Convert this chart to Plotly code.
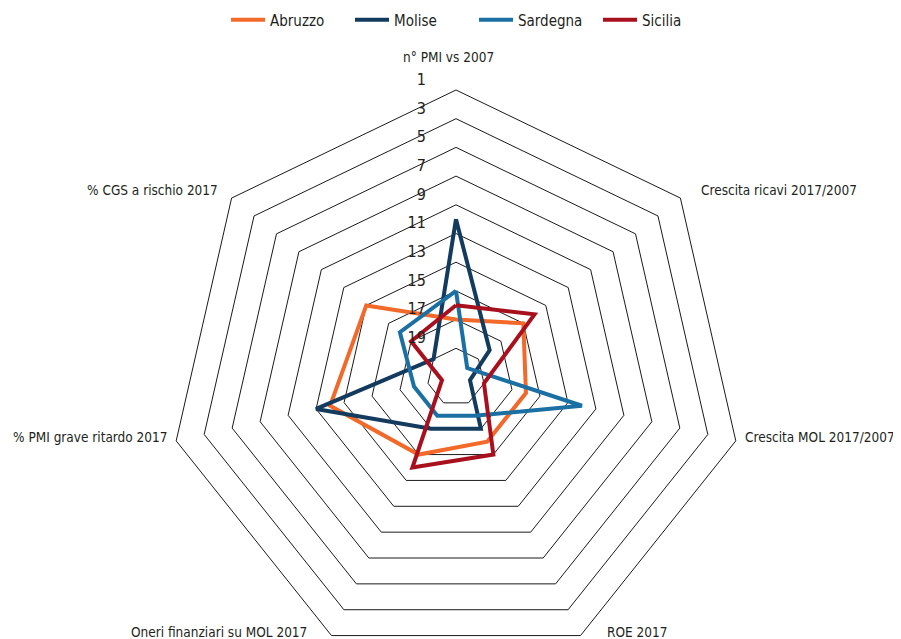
import plotly.graph_objects as go

categories = [
    "n° PMI vs 2007",
    "Crescita ricavi 2017/2007",
    "Crescita MOL 2017/2007",
    "ROE 2017",
    "Oneri finanziari su MOL 2017",
    "% PMI grave ritardo 2017",
    "% CGS a rischio 2017",
]
abruzzo = [17, 15, 16, 16, 15, 12, 13]
molise = [10, 18, 20, 17, 17, 11, 19]
sardegna = [15, 20, 12, 18, 18, 18, 16]
sicilia = [16, 14, 19, 15, 14, 20, 17]
radial_ticks = [1, 3, 5, 7, 9, 11, 13, 15, 17, 19]

series = [
    ("Abruzzo", abruzzo, "#F2692A"),
    ("Molise", molise, "#123B5E"),
    ("Sardegna", sardegna, "#1A70A3"),
    ("Sicilia", sicilia, "#A8101E"),
]

FONT = "DejaVu Sans Condensed, sans-serif"
TXT = "#231F20"

# figure geometry (the page adds an 8px body margin)
W, H = 893, 665
ML = 3
PW = W - ML
OFF = 8
POLAR_TOP, POLAR_H = 90, 574   # window pixels


def px(xw):
    return (xw - OFF - ML) / PW


def py(yw):
    return 1 - (yw - OFF) / H


fig = go.Figure()
for name, vals, color in series:
    fig.add_trace(go.Scatterpolar(
        r=vals + vals[:1],
        theta=categories + categories[:1],
        mode="lines",
        name=name,
        line=dict(color=color, width=4),
    ))

# category labels placed like the original (outside the heptagon)
label_pos = [
    (448, 57, "center"),
    (699, 190, "left"),
    (897, 437, "right"),
    (605, 632, "left"),
    (309, 632, "right"),
    (170, 437, "right"),
    (220, 190, "right"),
]
for cat, (xw, yw, anchor) in zip(categories, label_pos):
    fig.add_annotation(
        text=cat, xref="paper", yref="paper",
        x=px(xw), y=py(yw), xanchor=anchor, yanchor="middle",
        showarrow=False,
        font=dict(family=FONT, size=13.5, color=TXT),
    )

fig.update_layout(
    width=W,
    height=H,
    margin=dict(l=ML, r=0, t=0, b=0, autoexpand=False),
    paper_bgcolor="white",
    plot_bgcolor="white",
    font=dict(family=FONT, size=15, color=TXT),
    showlegend=True,
    legend=dict(
        orientation="h",
        x=px(226), xanchor="left",
        y=py(20), yanchor="middle",
        font=dict(family=FONT, size=15, color=TXT),
        itemwidth=34,
        entrywidth=75,
        entrywidthmode="pixels",
    ),
    polar=dict(
        bgcolor="white",
        gridshape="linear",
        domain=dict(x=[0, 1], y=[py(POLAR_TOP + POLAR_H), py(POLAR_TOP)]),
        radialaxis=dict(
            range=[21, 1],
            tickvals=radial_ticks,
            ticktext=[f"{v}<br>&nbsp;" for v in radial_ticks],
            showgrid=True,
            gridcolor="#1a1a1a",
            gridwidth=1,
            showline=False,
            angle=90,
            tickangle=90,
            side="counterclockwise",
            ticks="outside",
            ticklen=24,
            tickcolor="rgba(0,0,0,0)",
            tickfont=dict(family=FONT, size=16, color=TXT),
        ),
        angularaxis=dict(
            direction="clockwise",
            rotation=90,
            showgrid=False,
            showline=True,
            linecolor="#1a1a1a",
            linewidth=1,
            ticks="",
            showticklabels=False,
        ),
    ),
)

fig.write_html("out.html")
